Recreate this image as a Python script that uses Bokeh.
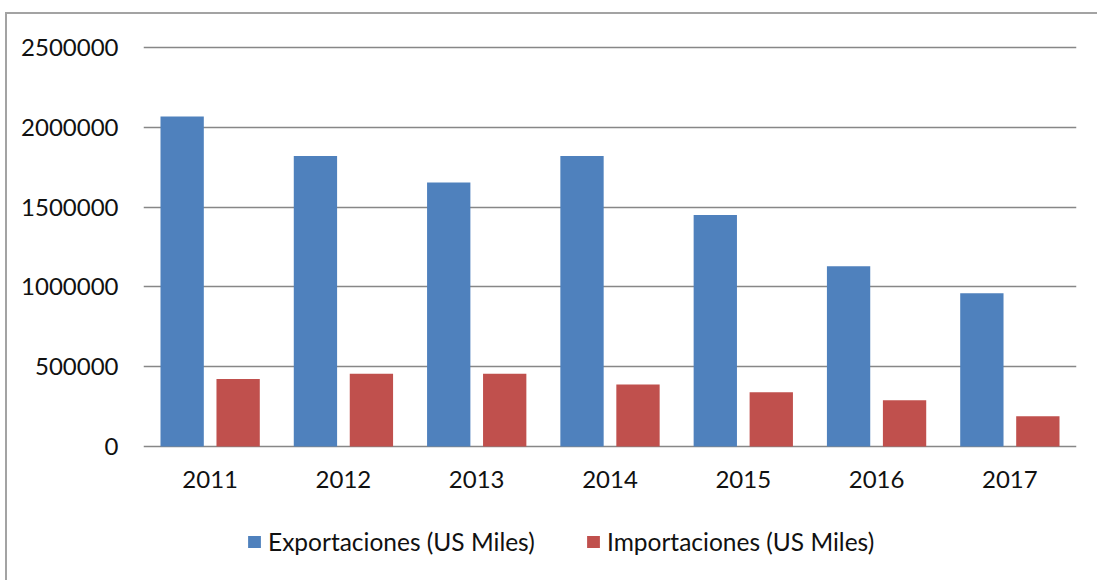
from bokeh.plotting import figure
from bokeh.layouts import column
from bokeh.models import (ColumnDataSource, FactorRange, Range1d, FixedTicker,
                          Legend, LegendItem, BasicTickFormatter)
from bokeh.transform import dodge
from bokeh.embed import file_html
from bokeh.resources import INLINE

years = ["2011", "2012", "2013", "2014", "2015", "2016", "2017"]
exportaciones = [2066000, 1820000, 1653000, 1820000, 1450000, 1129000, 960000]
importaciones = [423000, 456000, 456000, 389000, 340000, 290000, 190000]
y_ticks = [0, 500000, 1000000, 1500000, 2000000, 2500000]
series_names = ["Exportaciones (US Miles)", "Importaciones (US Miles)"]
colors = ["#4F81BD", "#C0504D"]

src = ColumnDataSource(dict(year=years, exp=exportaciones, imp=importaciones))

FONT = "Lato"
TXT = "#111111"
W = 1090

p = figure(x_range=FactorRange(*years, range_padding=0, factor_padding=0),
           y_range=Range1d(-12000, 2530000),
           width=W, height=490,
           output_backend="svg", toolbar_location=None,
           min_border_left=136, min_border_right=21,
           min_border_top=28, min_border_bottom=56)
p.outline_line_color = None
p.background_fill_color = "white"
p.border_fill_color = "white"

r_exp = p.vbar(x=dodge("year", -0.21, range=p.x_range), top="exp", width=0.325,
               source=src, fill_color=colors[0], line_color=None)
r_imp = p.vbar(x=dodge("year", 0.21, range=p.x_range), top="imp", width=0.325,
               source=src, fill_color=colors[1], line_color=None)

p.xgrid.grid_line_color = None
p.ygrid.grid_line_color = "#878787"
p.ygrid.grid_line_width = 1.6
p.ygrid.ticker = FixedTicker(ticks=y_ticks)

p.yaxis.ticker = FixedTicker(ticks=y_ticks)
p.yaxis.formatter = BasicTickFormatter(use_scientific=False)
for ax in (p.xaxis[0], p.yaxis[0]):
    ax.axis_line_color = None
    ax.major_tick_line_color = None
    ax.minor_tick_line_color = None
    ax.major_tick_out = 0
    ax.major_tick_in = 0
    ax.major_label_text_font = FONT
    ax.major_label_text_font_size = "24px"
    ax.major_label_text_color = TXT
p.yaxis.major_label_standoff = 25
p.xaxis.major_label_standoff = 22

# legend strip (its frame aligns with the chart frame in the column)
H2 = 76
p2 = figure(width=W, height=H2, x_range=Range1d(0, W), y_range=Range1d(0, H2),
            x_axis_type=None, y_axis_type=None,
            output_backend="svg", toolbar_location=None,
            min_border=0, min_border_left=0, min_border_right=0,
            min_border_top=0, min_border_bottom=0)
p2.outline_line_color = None
p2.xgrid.grid_line_color = None
p2.ygrid.grid_line_color = None
p2.border_fill_color = "white"

swatch_src = ColumnDataSource(dict(x=[-500], top=[0]))
sw_exp = p2.vbar(x="x", top="top", width=1, source=swatch_src,
                 fill_color=colors[0], line_color=None)
sw_imp = p2.vbar(x="x", top="top", width=1, source=swatch_src,
                 fill_color=colors[1], line_color=None)

for r, name, x in ((sw_exp, series_names[0], 103), (sw_imp, series_names[1], 442)):
    lg = Legend(items=[LegendItem(label=name, renderers=[r])],
                location=(x, 24), orientation="horizontal",
                padding=0, margin=0, border_line_color=None,
                background_fill_alpha=0,
                glyph_width=16, glyph_height=15, label_height=15,
                label_standoff=6,
                label_text_font=FONT, label_text_font_size="24.5px",
                label_text_color=TXT)
    p2.add_layout(lg, "center")

layout = column(p, p2, spacing=0,
                styles={"border-top": "2px solid #a3a3a3",
                        "border-left": "2px solid #a3a3a3",
                        "margin-top": "12px", "margin-left": "5px"})

open("out.html", "w").write(file_html(layout, INLINE))
